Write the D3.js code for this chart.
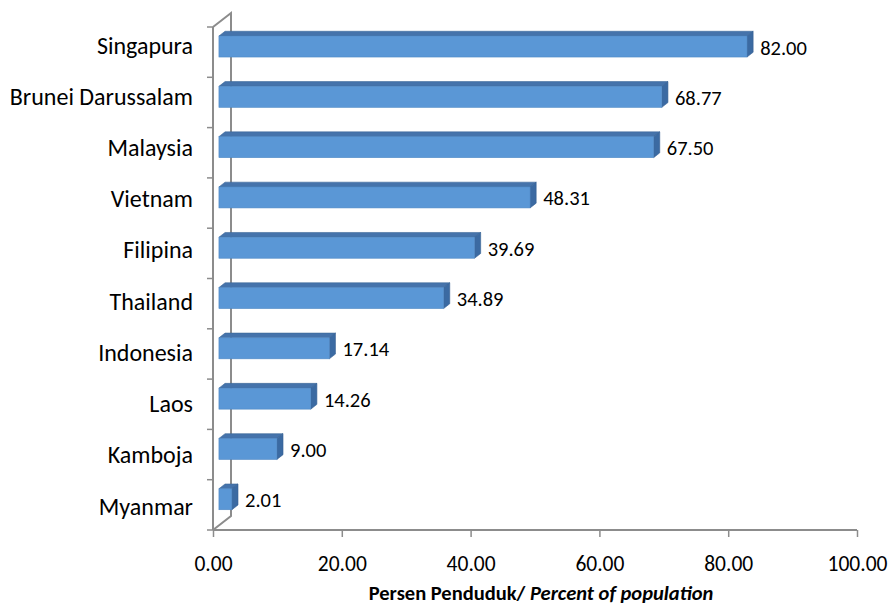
<!DOCTYPE html>
<html>
<head>
<meta charset="utf-8">
<script src="https://cdn.jsdelivr.net/npm/d3@7"></script>
<style>
  html, body { margin: 0; padding: 0; background: #ffffff; }
  svg { display: block; font-family: Carlito, Calibri, "Open Sans", sans-serif; }
</style>
</head>
<body>
<svg id="chart" width="890" height="606"></svg>
<script>
// Share of population (percent) by ASEAN country
const countries = ["Singapura", "Brunei Darussalam", "Malaysia", "Vietnam", "Filipina",
                   "Thailand", "Indonesia", "Laos", "Kamboja", "Myanmar"];
const percents  = [82.00, 68.77, 67.50, 48.31, 39.69, 34.89, 17.14, 14.26, 9.00, 2.01];
const xTicks    = [0, 20, 40, 60, 80, 100];
const axisTitleMain = "Persen Penduduk/ ";
const axisTitleItalic = "Percent of population";

const svg = d3.select("#chart");
const fontStack = "Carlito, Calibri, 'Open Sans', sans-serif";

// Front plane of the 3-D plot area
const plot = { left: 213, right: 857, top: 27, bottom: 530 };
// Oblique depth vector from front plane to back wall
const depth = { dx: 18, dy: -14 };
// Bars occupy the middle third of the depth
const fFront = 0.33, fBack = 0.67;
const barH = 21;

const x = d3.scaleLinear().domain([0, 100]).range([plot.left, plot.right]);
const y = d3.scaleBand().domain(countries).range([plot.top, plot.bottom]);
// Category label positions
const yLabel = d3.scalePoint().domain(countries).range([45, 506]);

const axisColor = "#8c8c8c";

// Walls: back vertical edge and oblique connectors
const walls = svg.append("g").attr("stroke", axisColor).attr("stroke-width", 2).attr("fill", "none");
walls.append("path").attr("d",
  `M${plot.left},${plot.top} L${plot.left + depth.dx},${plot.top + depth.dy}` +
  ` L${plot.left + depth.dx},${plot.bottom + depth.dy} L${plot.left},${plot.bottom}`);

// Category axis (front-left edge) with ticks between categories
const yAxis = d3.axisLeft(y).tickSize(0).tickFormat("");
const gy = svg.append("g").attr("transform", `translate(${plot.left},0)`).call(yAxis);
gy.select(".domain").attr("stroke", axisColor).attr("stroke-width", 2)
  .attr("d", `M0,${plot.top}V${plot.bottom}`);
const boundaries = countries.map(c => y(c)).concat([plot.bottom]);
svg.append("g").selectAll("line").data(boundaries).join("line")
  .attr("x1", plot.left - 6).attr("x2", plot.left)
  .attr("y1", d => d).attr("y2", d => d)
  .attr("stroke", axisColor).attr("stroke-width", 1.5);

// Value axis along the floor front edge
const xAxis = d3.axisBottom(x).tickValues(xTicks).tickSize(7).tickPadding(19)
  .tickFormat(d3.format(".2f"));
const gx = svg.append("g").attr("transform", `translate(0,${plot.bottom})`).call(xAxis);
gx.select(".domain").attr("stroke", axisColor).attr("stroke-width", 2)
  .attr("d", `M${plot.left},0H${plot.right}`);
gx.selectAll(".tick line").attr("stroke", axisColor).attr("stroke-width", 1.5);
gx.selectAll(".tick text").attr("fill", "#000").attr("font-size", 21.5)
  .attr("font-family", fontStack);

// Category labels
svg.append("g").selectAll("text").data(countries).join("text")
  .attr("x", 193)
  .attr("y", d => yLabel(d))
  .attr("text-anchor", "end").attr("dominant-baseline", "central")
  .attr("font-size", 24).attr("fill", "#000")
  .text(d => d);

// 3-D bars
const fx = depth.dx * fFront, fy = depth.dy * fFront;
const sx = depth.dx * (fBack - fFront), sy = depth.dy * (fBack - fFront);
const rows = countries.map((c, i) => {
  const cy = y(c) + y.bandwidth() / 2 + fy - 1;
  return { c, v: percents[i], x0: x(0) + fx, x1: x(percents[i]) + fx, yt: cy - barH / 2, yb: cy + barH / 2 };
});

const bars = svg.append("g");
const bg = bars.selectAll("g").data(rows).join("g");
// top face
bg.append("path")
  .attr("d", d => `M${d.x0},${d.yt} L${d.x0 + sx},${d.yt + sy} L${d.x1 + sx},${d.yt + sy} L${d.x1},${d.yt} Z`)
  .attr("fill", "#4573ab").attr("stroke", "#3d6898").attr("stroke-width", 0.6);
// side face
bg.append("path")
  .attr("d", d => `M${d.x1},${d.yt} L${d.x1 + sx},${d.yt + sy} L${d.x1 + sx},${d.yb + sy} L${d.x1},${d.yb} Z`)
  .attr("fill", "#3b6aa2").attr("stroke", "#355f92").attr("stroke-width", 0.6);
// front face
bg.append("rect")
  .attr("x", d => d.x0).attr("y", d => d.yt)
  .attr("width", d => d.x1 - d.x0).attr("height", barH)
  .attr("fill", "#5a97d6").attr("stroke", "#4f88c4").attr("stroke-width", 0.6);

// Value labels
svg.append("g").selectAll("text").data(rows).join("text")
  .attr("x", d => d.x1 + sx + 7)
  .attr("y", d => (d.yt + d.yb) / 2 + 1)
  .attr("dominant-baseline", "central")
  .attr("font-size", 20.5).attr("fill", "#000")
  .text(d => d3.format(".2f")(d.v));

// Axis title
const title = svg.append("text")
  .attr("x", 541).attr("y", 600)
  .attr("text-anchor", "middle").attr("font-size", 20.5).attr("font-weight", "bold").attr("fill", "#000");
title.append("tspan").text(axisTitleMain);
title.append("tspan").attr("font-style", "italic").text(axisTitleItalic);
</script>
</body>
</html>
